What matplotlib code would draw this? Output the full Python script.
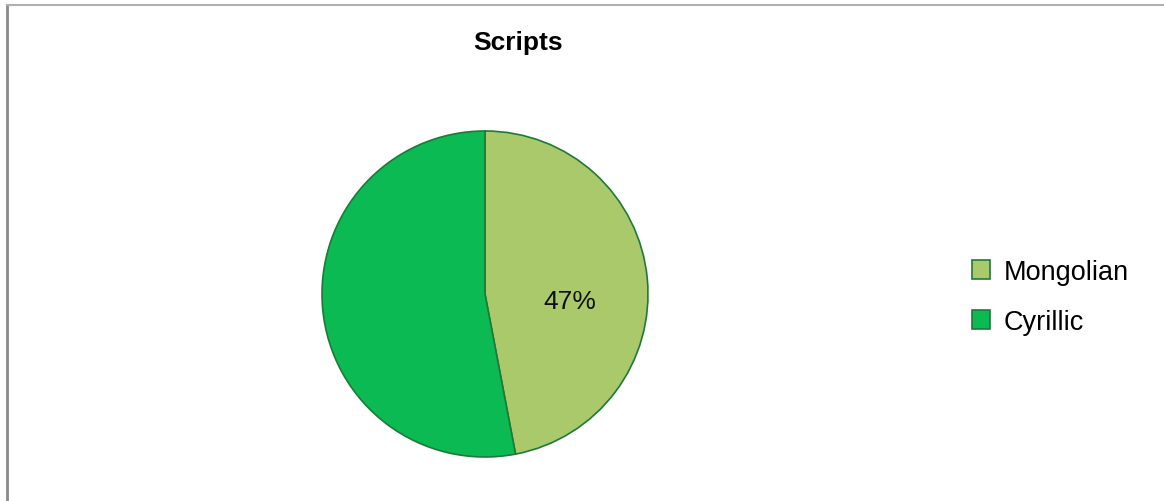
import matplotlib.pyplot as plt
from matplotlib.lines import Line2D

plt.rcParams['font.family'] = ['Liberation Sans', 'DejaVu Sans']

labels = ['Mongolian', 'Cyrillic']
values = [47, 53]
colors = ['#a9c96a', '#0bba52']

W, H = 1164, 502
fig = plt.figure(figsize=(W / 100, H / 100), dpi=100)

# pie box: center (485, 295), radius ~163 px
cx, cy, r = 485, 295, 163
ax = fig.add_axes([(cx - r) / W, (H - cy - r) / H, 2 * r / W, 2 * r / H])
wedges, texts, autotexts = ax.pie(
    values, colors=colors, startangle=90, counterclock=False,
    autopct=lambda p: f'{p:.0f}%' if p < 50 else '',
    pctdistance=0.52,
    wedgeprops=dict(edgecolor='#1e7a3a', linewidth=1.2),
    textprops=dict(fontsize=19, color='#111111'))
# excel puts the label a little lower than the wedge bisector
for t in autotexts:
    x, y = t.get_position()
    t.set_position((x, y - 0.09))
ax.set_xlim(-1, 1)
ax.set_ylim(-1, 1)

fig.text(518 / W, 1 - 43 / H, 'Scripts', ha='center', va='center',
         fontsize=19, fontweight='bold')

fig.legend(wedges, labels, loc='center left',
           bbox_to_anchor=(972 / W, 1 - 298 / H), frameon=False,
           fontsize=19.5, handlelength=0.66, handleheight=0.66,
           handletextpad=0.5, labelspacing=0.88, borderpad=0,
           borderaxespad=0)

# chart frame (left and top edges visible)
fig.add_artist(Line2D([7 / W, 7 / W], [0, 1 - 6 / H], transform=fig.transFigure,
                      color='#8a8a8a', linewidth=2))
fig.add_artist(Line2D([7 / W, 1], [1 - 6 / H, 1 - 6 / H], transform=fig.transFigure,
                      color='#b0b0b0', linewidth=1.5))

fig.savefig('out.png', dpi=100)
